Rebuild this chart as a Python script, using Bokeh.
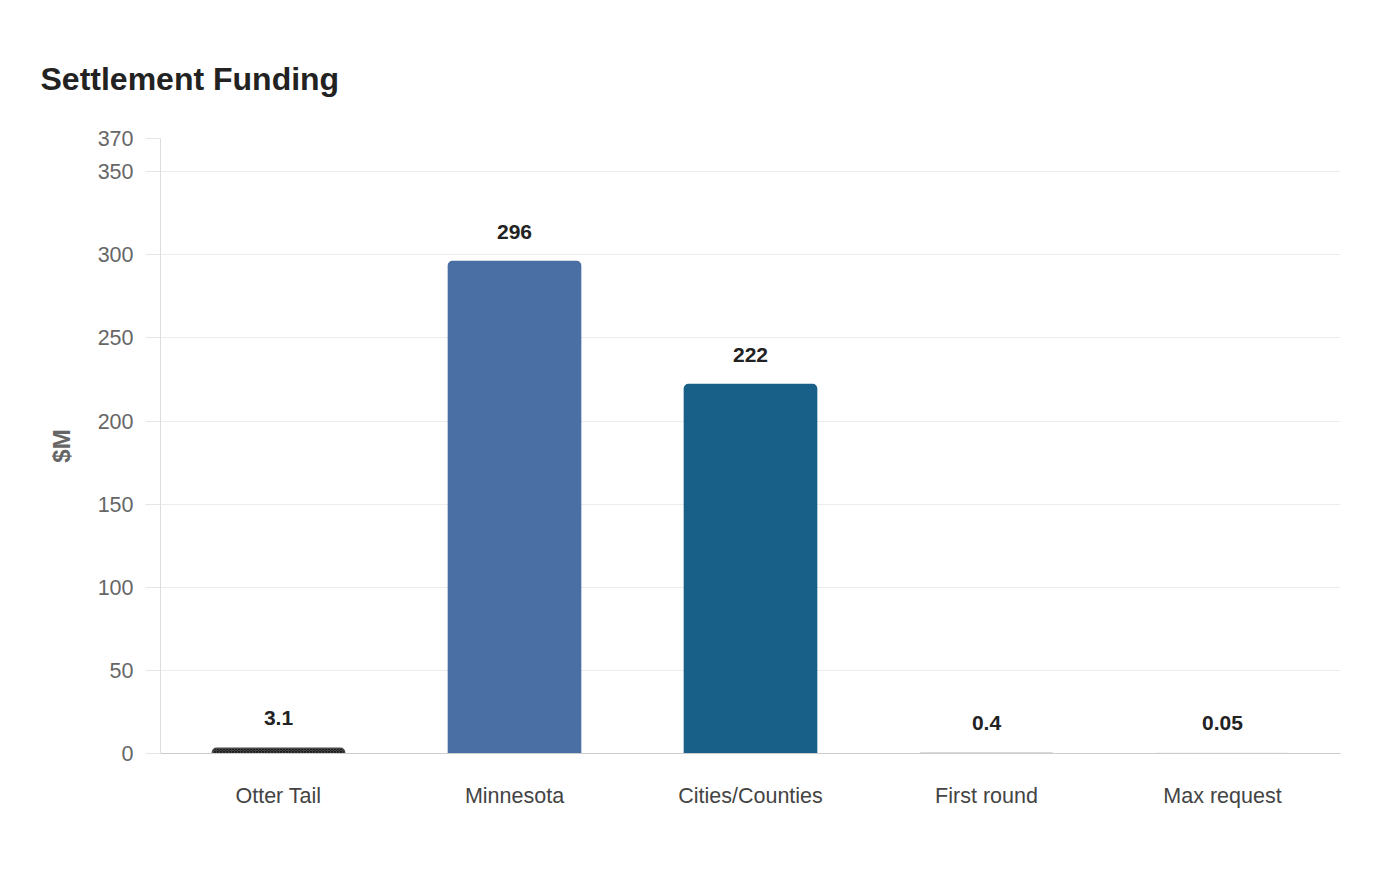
from bokeh.plotting import figure
from bokeh.models import ColumnDataSource, FixedTicker, Range1d, Title, LabelSet
from bokeh.core.properties import value
from bokeh.embed import file_html
from bokeh.resources import INLINE

categories = ["Otter Tail", "Minnesota", "Cities/Counties", "First round", "Max request"]
values = [3.1, 296, 222, 0.4, 0.05]
labels = ["3.1", "296", "222", "0.4", "0.05"]
colors = ["#4a4a4a", "#4a6fa5", "#186088", "#d9d9d9", "#d9d9d9"]
hatches = ["x", " ", " ", " ", " "]
y_ticks = [0, 50, 100, 150, 200, 250, 300, 350, 370]

src = ColumnDataSource(dict(cat=categories, val=values, lab=labels, col=colors, hat=hatches))

p = figure(width=1400, height=880, x_range=categories, y_range=Range1d(0, 370),
           output_backend="svg", toolbar_location=None,
           min_border_left=160, min_border_right=60, min_border_bottom=127, min_border_top=138)
p.title = None
p.add_layout(Title(text=" ", text_font_size="22px"), "above")
p.add_layout(Title(text="Settlement Funding", text_font_size="32px", text_font_style="bold",
                   text_color="#222222", text_font="Liberation Sans", offset=-120), "above")

p.vbar(x="cat", top="val", width=0.56, source=src, fill_color="col", line_color="col",
       line_width=1.5, hatch_pattern="hat", hatch_color="#1a1a1a", hatch_scale=3,
       hatch_weight=1, border_radius=(4, 4, 0, 0))

lbl = LabelSet(x="cat", y="val", text="lab", source=src, text_align="center",
               text_baseline="bottom", y_offset=23, text_font_size="21px",
               text_font_style="bold", text_color="#222222",
               text_font=value("Liberation Sans"))
p.add_layout(lbl)

p.outline_line_color = None
p.xgrid.grid_line_color = None
p.ygrid.grid_line_color = "#ececec"
p.ygrid.ticker = FixedTicker(ticks=y_ticks)

ya = p.yaxis[0]
ya.ticker = FixedTicker(ticks=y_ticks)
ya.axis_line_color = "#dddddd"
ya.major_tick_line_color = "#e5e5e5"
ya.major_tick_out = 15
ya.major_tick_in = 0
ya.minor_tick_line_color = None
ya.major_label_standoff = 12
ya.major_label_text_font_size = "21.5px"
ya.major_label_text_color = "#666666"
ya.major_label_text_font = "Liberation Sans"
ya.axis_label = "$M"
ya.axis_label_text_font_size = "24px"
ya.axis_label_text_font_style = "bold"
ya.axis_label_text_color = "#666666"
ya.axis_label_text_font = "Liberation Sans"
ya.axis_label_standoff = 20

xa = p.xaxis[0]
xa.axis_line_color = "#cccccc"
xa.major_tick_line_color = None
xa.major_tick_out = 0
xa.major_tick_in = 0
xa.major_label_standoff = 30
xa.major_label_text_font_size = "21.5px"
xa.major_label_text_color = "#444444"
xa.major_label_text_font = "Liberation Sans"

open("out.html", "w").write(file_html(p, INLINE))
